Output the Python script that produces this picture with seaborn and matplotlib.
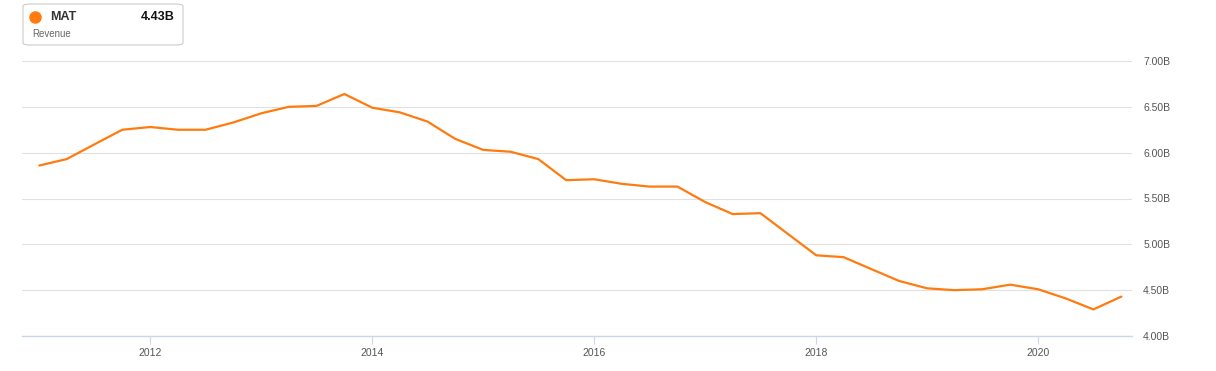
import pandas as pd
import numpy as np
import matplotlib.pyplot as plt
import matplotlib.dates as mdates
from matplotlib.patches import FancyBboxPatch
from matplotlib.lines import Line2D
import seaborn as sns

# Quarterly revenue, billions
quarters = pd.date_range("2011-01-01", "2020-10-01", freq="QS")
revenue = [5.86, 5.93, 6.09, 6.25, 6.28, 6.25, 6.25, 6.33, 6.43, 6.50,
           6.51, 6.64, 6.49, 6.44, 6.34, 6.15, 6.03, 6.01, 5.93, 5.70,
           5.71, 5.66, 5.63, 5.63, 5.46, 5.33, 5.34, 5.11, 4.88, 4.86,
           4.73, 4.60, 4.52, 4.50, 4.51, 4.56, 4.51, 4.41, 4.29, 4.43]
ticker = "MAT"
series_name = "Revenue"
y_ticks = [4.0, 4.5, 5.0, 5.5, 6.0, 6.5, 7.0]
x_years = [2012, 2014, 2016, 2018, 2020]

df = pd.DataFrame({"date": quarters, "revenue": revenue})

sns.set_style("white")
plt.rcParams['font.family'] = ['Liberation Sans', 'DejaVu Sans']

line_color = '#ff7b0f'
fig = plt.figure(figsize=(12.16, 3.71), dpi=100)
ax = fig.add_axes([22/1216, 1 - 336/371, (1132-22)/1216, (336-61)/371])

sns.lineplot(data=df, x="date", y="revenue", ax=ax, color=line_color, linewidth=1.6)

ax.set_ylim(4.0, 7.0)
ax.set_xlim(pd.Timestamp("2010-11-05"), pd.Timestamp("2020-11-05"))
ax.set_yticks(y_ticks)
ax.set_yticklabels([f"{v:.2f}B" for v in y_ticks])
ax.yaxis.tick_right()
ax.tick_params(axis='y', length=0, pad=8, labelsize=7.5, labelcolor='#555555')
ax.set_xticks([pd.Timestamp(f"{y}-01-01") for y in x_years])
ax.xaxis.set_major_formatter(mdates.DateFormatter("%Y"))
ax.tick_params(axis='x', bottom=True, direction='out', length=6, width=0.8,
               color='#ccd6eb', pad=3, labelsize=7.5, labelcolor='#555555')
ax.grid(axis='y', color='#e0e0e0', linewidth=0.8)
ax.grid(axis='x', visible=False)
for s in ['top', 'left', 'right']:
    ax.spines[s].set_visible(False)
ax.spines['bottom'].set_color('#ccd6eb')
ax.spines['bottom'].set_linewidth(1.0)
ax.set_xlabel("")
ax.set_ylabel("")

# legend box top-left
box = FancyBboxPatch((23/1216, 1 - 45/371), 160/1216, 41/371,
                     boxstyle="round,pad=0,rounding_size=0.006",
                     transform=fig.transFigure, facecolor='white',
                     edgecolor='#cccccc', linewidth=0.8)
fig.patches.append(box)
fig.add_artist(Line2D([35/1216], [1 - 17/371], marker='o', markersize=8,
                      color=line_color, linestyle='none',
                      transform=fig.transFigure))
fig.text(50/1216, 1 - 17/371, ticker, fontsize=9, fontweight='bold',
         color='#333333', ha='left', va='center')
fig.text(175/1216, 1 - 17/371, f"{revenue[-1]:.2f}B", fontsize=9,
         fontweight='bold', color='#111111', ha='right', va='center')
fig.text(32/1216, 1 - 34/371, series_name, fontsize=7, color='#666666',
         ha='left', va='center')

fig.savefig("out.png", dpi=100)
